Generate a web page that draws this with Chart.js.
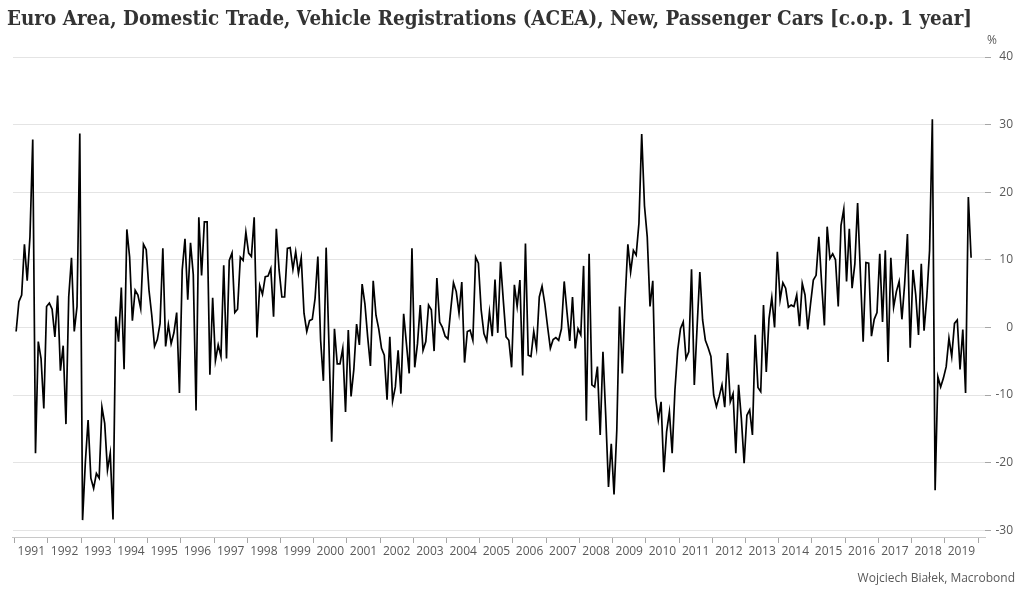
<!DOCTYPE html>
<html>
<head>
<meta charset="utf-8">
<script src="https://cdn.jsdelivr.net/npm/chart.js@4.4.1/dist/chart.umd.min.js"></script>
<style>
  html, body { margin: 0; padding: 0; background: #fff; }
  canvas { display: block; }
</style>
</head>
<body>
<canvas id="chart" width="1024" height="594"></canvas>
<script>
const titleText = "Euro Area, Domestic Trade, Vehicle Registrations (ACEA), New, Passenger Cars [c.o.p. 1 year]";
const sourceText = "Wojciech Białek, Macrobond";
const unitText = "%";

const firstYear = 1991;
// monthly values, Jan 1991 .. Oct 2019, one row per year
const carRegs = [
  -0.6, 3.8, 4.8, 12.3, 6.9, 13.4, 27.8, -18.6, -2.1, -4.6, -12.0, 3.1,
  3.6, 2.7, -1.4, 4.7, -6.4, -2.7, -14.3, 4.5, 10.3, -0.6, 3.1, 28.7,
  -28.5, -20.0, -13.7, -22.3, -23.8, -21.6, -22.3, -11.8, -14.2, -21.1, -18.6, -28.4,
  1.6, -2.1, 5.9, -6.2, 14.5, 10.4, 1.0, 5.5, 4.8, 2.8, 12.3, 11.5,
  5.5, 1.8, -2.8, -1.8, 0.6, 11.7, -2.8, 0.4, -2.4, -0.8, 2.2, -9.7,
  8.5, 13.1, 4.1, 12.5, 7.8, -12.3, 16.3, 7.7, 15.6, 15.6, -7.0, 4.4,
  -4.9, -2.6, -4.3, 9.2, -4.6, 9.9, 11.0, 2.2, 2.7, 10.4, 9.9, 14.1,
  11.0, 10.5, 16.3, -1.5, 6.2, 4.9, 7.5, 7.6, 8.7, 1.6, 14.6, 8.5,
  4.5, 4.5, 11.7, 11.8, 8.6, 11.2, 8.0, 10.3, 2.1, -0.6, 1.0, 1.2,
  4.3, 10.5, -1.9, -7.9, 11.8, -2.4, -16.9, -0.2, -5.4, -5.4, -3.1, -12.5,
  -0.4, -10.2, -6.2, 0.5, -2.6, 6.4, 3.5, -1.4, -5.7, 6.9, 1.8, -0.2,
  -3.1, -4.1, -10.7, -1.4, -10.9, -8.8, -3.4, -9.8, 2.0, -2.4, -6.8, 11.7,
  -5.9, -2.4, 3.3, -3.4, -2.1, 3.3, 2.6, -3.5, 7.3, 0.8, 0.0, -1.3,
  -1.7, 2.6, 6.6, 5.3, 2.1, 6.7, -5.2, -0.6, -0.4, -1.9, 10.4, 9.5,
  2.6, -0.9, -2.0, 2.3, -1.3, 7.1, -0.8, 9.7, 4.0, -1.4, -1.9, -5.9,
  6.3, 3.1, 7.0, -7.1, 12.4, -4.1, -4.3, -0.6, -3.1, 4.5, 6.1, 3.5,
  0.1, -3.1, -1.8, -1.5, -1.9, -0.2, 6.8, 2.3, -2.0, 4.5, -3.1, -0.2,
  -1.1, 9.1, -13.8, 10.9, -8.5, -8.8, -5.8, -15.9, -3.6, -13.0, -23.6, -17.2,
  -24.7, -15.2, 3.1, -6.8, 4.0, 12.3, 8.2, 11.4, 10.7, 15.4, 28.6, 18.0,
  13.4, 3.1, 6.9, -10.3, -13.7, -11.0, -21.4, -15.4, -12.5, -18.6, -9.3, -3.4,
  -0.2, 0.8, -4.6, -3.6, 8.6, -8.5, 0.0, 8.2, 1.1, -1.9, -3.0, -4.3,
  -10.0, -11.7, -10.2, -8.5, -11.8, -3.8, -11.0, -9.8, -18.6, -8.5, -13.5, -20.1,
  -13.0, -12.2, -15.9, -1.1, -8.9, -9.5, 3.3, -6.6, 1.3, 4.4, 0.0, 11.2,
  4.1, 6.6, 5.8, 3.0, 3.3, 3.1, 4.8, 0.2, 6.5, 4.8, -0.3, 3.5,
  7.0, 7.7, 13.4, 6.5, 0.3, 14.9, 10.2, 10.9, 10.0, 3.1, 15.1, 17.5,
  6.8, 14.6, 5.8, 9.4, 18.4, 8.0, -2.1, 9.6, 9.5, -1.3, 1.2, 2.2,
  10.9, 0.8, 11.4, -5.1, 10.3, 3.0, 5.3, 6.8, 1.2, 6.5, 13.8, -3.0,
  8.5, 4.8, -1.1, 9.4, -0.5, 4.5, 11.4, 30.8, -24.1, -7.3, -8.8, -7.5,
  -5.8, -1.6, -4.3, 0.6, 1.1, -6.2, -0.3, -9.7, 19.3, 10.3
];

const yearTicks = [1991, 1992, 1993, 1994, 1995, 1996, 1997, 1998, 1999, 2000,
  2001, 2002, 2003, 2004, 2005, 2006, 2007, 2008, 2009, 2010, 2011, 2012, 2013,
  2014, 2015, 2016, 2017, 2018, 2019, 2020];
const yTicks = [-30, -20, -10, 0, 10, 20, 30, 40];

// place each month in the middle of its month on a year axis
const points = carRegs.map((v, i) => ({ x: firstYear + (i + 0.5) / 12, y: v }));

const labelFont = { family: "'Open Sans', sans-serif", size: 12 };
const labelColor = "#595959";

const textPlugin = {
  id: "texts",
  afterDraw(chart) {
    const ctx = chart.ctx;
    ctx.save();
    ctx.fillStyle = "#333333";
    ctx.font = "bold 20px 'DejaVu Serif'";
    ctx.textBaseline = "alphabetic";
    ctx.textAlign = "left";
    ctx.fillText(titleText, 7, 25, 965);

    ctx.fillStyle = labelColor;
    ctx.font = "12px 'Open Sans'";
    ctx.textAlign = "center";
    ctx.fillText(unitText, 992, 44);

    ctx.textAlign = "right";
    ctx.fillText(sourceText, 1015, 582);
    ctx.restore();
  }
};

new Chart(document.getElementById("chart"), {
  type: "line",
  data: {
    datasets: [{
      data: points,
      borderColor: "#000",
      borderWidth: 1.7,
      pointRadius: 0,
      tension: 0,
      fill: false
    }]
  },
  options: {
    responsive: false,
    animation: false,
    layout: { padding: { left: 12, top: 57, right: 11, bottom: 31 } },
    plugins: {
      legend: { display: false },
      tooltip: { enabled: false },
      title: { display: false }
    },
    scales: {
      x: {
        type: "linear",
        min: 1990.947,
        max: 2020.21,
        afterBuildTicks: (s) => { s.ticks = yearTicks.map((v) => ({ value: v })); },
        afterFit: (s) => { s.height = 26; },
        grid: { drawOnChartArea: false, drawTicks: true, tickLength: 6, color: "#a6a6a6" },
        border: { display: true, color: "#c8c8c8" },
        ticks: {
          labelOffset: 16.6,
          maxRotation: 0,
          autoSkip: false,
          padding: 1,
          color: labelColor,
          font: labelFont,
          callback: (v) => (v < 2020 ? String(v) : "")
        }
      },
      y: {
        position: "right",
        min: -31,
        max: 40,
        afterBuildTicks: (s) => { s.ticks = yTicks.map((v) => ({ value: v })); },
        afterFit: (s) => { s.width = 28; },
        grid: { color: "#e4e4e4", tickLength: 6, tickColor: "#a6a6a6" },
        border: { display: false },
        ticks: { crossAlign: "far", color: labelColor, font: labelFont }
      }
    }
  },
  plugins: [textPlugin]
});
</script>
</body>
</html>
